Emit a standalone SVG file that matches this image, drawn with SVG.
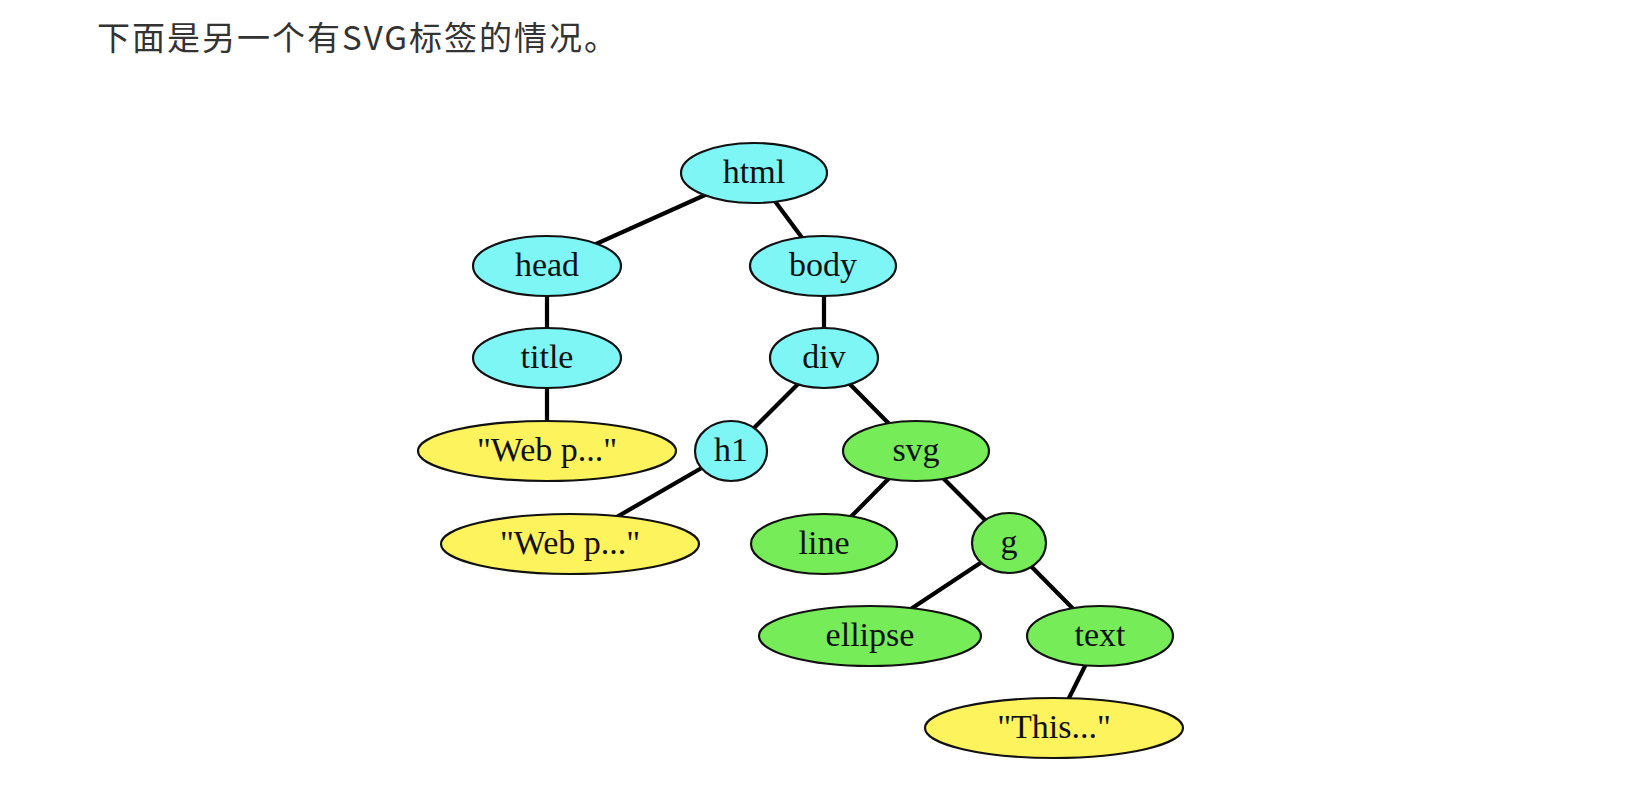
<svg xmlns="http://www.w3.org/2000/svg" width="1640" height="808" viewBox="0 0 1640 808">
<style>
.e{stroke:#111;stroke-width:2.2}
.c{fill:#7ef6f6}
.g{fill:#76ec58}
.y{fill:#fdf35c}
.t{font-family:"Liberation Serif","DejaVu Serif",serif;font-size:34px;fill:#111;text-anchor:middle;dominant-baseline:central}
#edges line{stroke:#000;stroke-width:4.2}
</style>
<rect width="1640" height="808" fill="#fff"/>
<text x="97" y="50" font-family="'Noto Sans CJK SC','Noto Sans',sans-serif" font-size="33" fill="#333" letter-spacing="2">下面是另一个有SVG标签的情况。</text>
<g id="edges">
<line x1="754" y1="173" x2="547" y2="266"/>
<line x1="754" y1="173" x2="823" y2="266"/>
<line x1="547" y1="266" x2="547" y2="358"/>
<line x1="824" y1="266" x2="824" y2="358"/>
<line x1="547" y1="358" x2="547" y2="451"/>
<line x1="824" y1="358" x2="731" y2="451"/>
<line x1="824" y1="358" x2="916" y2="451"/>
<line x1="731" y1="451" x2="570" y2="544"/>
<line x1="916" y1="451" x2="824" y2="544"/>
<line x1="916" y1="451" x2="1009" y2="544"/>
<line x1="1009" y1="544" x2="870" y2="636"/>
<line x1="1009" y1="544" x2="1100" y2="636"/>
<line x1="1100" y1="636" x2="1054" y2="728"/>
</g>
<g id="html"><ellipse class="e c" cx="754" cy="173" rx="73" ry="30"/><text class="t" x="754" y="171">html</text></g>
<g id="head"><ellipse class="e c" cx="547" cy="266" rx="74" ry="30"/><text class="t" x="547" y="264">head</text></g>
<g id="body"><ellipse class="e c" cx="823" cy="266" rx="73" ry="30"/><text class="t" x="823" y="264">body</text></g>
<g id="title"><ellipse class="e c" cx="547" cy="358" rx="74" ry="30"/><text class="t" x="547" y="356">title</text></g>
<g id="div"><ellipse class="e c" cx="824" cy="358" rx="54" ry="30"/><text class="t" x="824" y="356">div</text></g>
<g id="text1"><ellipse class="e y" cx="547" cy="451" rx="129" ry="30"/><text class="t" x="547" y="449">"Web p..."</text></g>
<g id="h1"><ellipse class="e c" cx="731" cy="451" rx="36" ry="30"/><text class="t" x="731" y="449">h1</text></g>
<g id="svg"><ellipse class="e g" cx="916" cy="451" rx="73" ry="30"/><text class="t" x="916" y="449">svg</text></g>
<g id="text2"><ellipse class="e y" cx="570" cy="544" rx="129" ry="30"/><text class="t" x="570" y="542">"Web p..."</text></g>
<g id="line"><ellipse class="e g" cx="824" cy="544" rx="73" ry="30"/><text class="t" x="824" y="542">line</text></g>
<g id="gnode"><ellipse class="e g" cx="1009" cy="543" rx="37" ry="30"/><text class="t" x="1009" y="541">g</text></g>
<g id="ellipse"><ellipse class="e g" cx="870" cy="636" rx="111" ry="30"/><text class="t" x="870" y="634">ellipse</text></g>
<g id="textnode"><ellipse class="e g" cx="1100" cy="636" rx="73" ry="30"/><text class="t" x="1100" y="634">text</text></g>
<g id="text3"><ellipse class="e y" cx="1054" cy="728" rx="129" ry="30"/><text class="t" x="1054" y="726">"This..."</text></g>
</svg>
